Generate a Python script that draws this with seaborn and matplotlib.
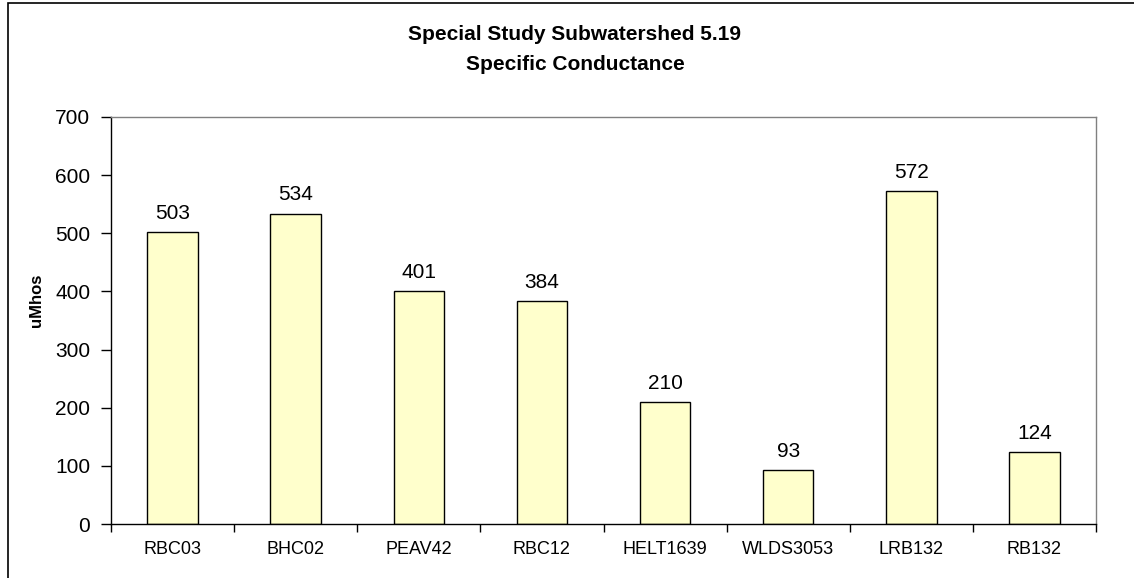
import matplotlib
matplotlib.use("Agg")
import matplotlib.pyplot as plt
import seaborn as sns
import pandas as pd
from matplotlib.patches import Rectangle

stations = ["RBC03", "BHC02", "PEAV42", "RBC12", "HELT1639", "WLDS3053", "LRB132", "RB132"]
conductance = [503, 534, 401, 384, 210, 93, 572, 124]
y_ticks = [0, 100, 200, 300, 400, 500, 600, 700]

df = pd.DataFrame({"station": stations, "uMhos": conductance})

sns.set_theme(style="white")
plt.rcParams["font.family"] = ["Liberation Sans", "DejaVu Sans"]
plt.rcParams["text.color"] = "black"
plt.rcParams["axes.labelcolor"] = "black"
plt.rcParams["xtick.color"] = "black"
plt.rcParams["ytick.color"] = "black"

fig = plt.figure(figsize=(11.34, 5.78), dpi=100)
ax = fig.add_axes([111 / 1134, 1 - 524 / 578, (1096 - 111) / 1134, (524 - 117) / 578])

sns.barplot(data=df, x="station", y="uMhos", color="#FFFFCC", width=0.41,
            edgecolor="black", linewidth=1.0, saturation=1, ax=ax)

for i, v in enumerate(conductance):
    ax.annotate(str(v), (i, v), xytext=(0, 6.5), textcoords="offset points",
                ha="center", va="bottom", fontsize=15, color="black")

ax.set_xlim(-0.5, len(stations) - 0.5)
ax.set_ylim(0, 700)
ax.set_yticks(y_ticks)
ax.set_ylabel("")
ax.set_xlabel("")
fig.text(36 / 1134, 1 - 300 / 578, "uMhos", rotation=90, ha="center", va="center",
         fontsize=12, fontweight="bold", color="black")

# category-boundary ticks on the x axis
ax.set_xticks([i - 0.5 for i in range(len(stations) + 1)], minor=False)
ax.set_xticklabels([])
ax.set_xticks(range(len(stations)), minor=True)
ax.set_xticklabels(stations, minor=True, fontsize=13)
ax.tick_params(axis="x", which="minor", length=0, pad=12)
ax.tick_params(axis="x", which="major", direction="out", length=6, width=1, color="black", bottom=True)
ax.tick_params(axis="y", direction="out", length=7, width=1, color="black", left=True,
               labelsize=15, pad=8)

for side in ["left", "bottom"]:
    ax.spines[side].set_color("black")
    ax.spines[side].set_linewidth(1.0)
for side in ["top", "right"]:
    ax.spines[side].set_color("#808080")
    ax.spines[side].set_linewidth(1.0)

fig.text(575 / 1134, 1 - 35 / 578, "Special Study Subwatershed 5.19", ha="center", va="center",
         fontsize=15, fontweight="bold", color="black")
fig.text(575 / 1134, 1 - 65 / 578, "Specific Conductance", ha="center", va="center",
         fontsize=15, fontweight="bold", color="black")

# outer chart frame
fig.patches.append(Rectangle((8 / 1134, -0.1), 1.2, 1 - 3 / 578 + 0.1, transform=fig.transFigure,
                             fill=False, edgecolor="black", linewidth=1.2, clip_on=False))

fig.savefig("out.png", dpi=100, facecolor="white")
